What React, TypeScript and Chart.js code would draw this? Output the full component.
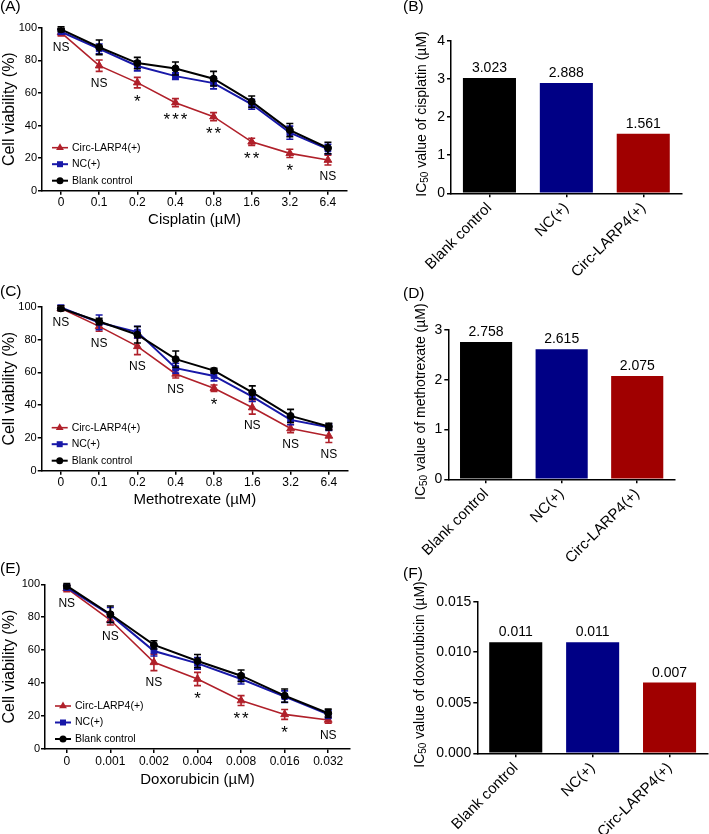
import React, { useEffect, useRef } from 'react';
import { Chart, registerables } from 'chart.js';

Chart.register(...registerables);

const FONT = "'Liberation Sans', Arial, Helvetica, sans-serif";
Chart.defaults.font.family = FONT;
Chart.defaults.color = '#000';

// ---------------- data ----------------
const SERIES_NAMES = ['Circ-LARP4(+)', 'NC(+)', 'Blank control'];
const BAR_GROUPS = ['Blank control', 'NC(+)', 'Circ-LARP4(+)'];

const CIS_DOSES = ['0', '0.1', '0.2', '0.4', '0.8', '1.6', '3.2', '6.4'];
const CIS_CIRC = [97, 76.7, 66.3, 54, 45.4, 30, 22.9, 18.8];
const CIS_CIRC_ERR = [2, 3.5, 3.2, 2.5, 2.5, 2.2, 2.5, 3];
const CIS_NC = [97.5, 87, 76.5, 70.3, 66, 53, 35.6, 25.5];
const CIS_NC_ERR = [1.5, 3, 3, 2, 3.5, 3, 4, 3];
const CIS_BLANK = [99, 88, 78.3, 75, 68.7, 54.6, 37.2, 26.2];
const CIS_BLANK_ERR = [1.5, 4.5, 3.5, 4, 4.5, 3.5, 4, 3.5];
const CIS_SIG = ['NS', 'NS', '*', '***', '**', '**', '*', 'NS'];
const CIS_IC50 = [3.023, 2.888, 1.561];

const MTX_DOSES = ['0', '0.1', '0.2', '0.4', '0.8', '1.6', '3.2', '6.4'];
const MTX_CIRC = [99, 88, 75.8, 59, 50.3, 38.5, 25.7, 21.2];
const MTX_CIRC_ERR = [1.5, 3, 5, 2.5, 2, 4, 2.5, 4];
const MTX_NC = [99.5, 90.4, 84.5, 62.5, 57.8, 45.2, 31, 26.5];
const MTX_NC_ERR = [1.5, 4.5, 3.5, 3, 3, 3, 3, 2];
const MTX_BLANK = [99, 91, 82.9, 68, 61, 47.7, 33.4, 26.9];
const MTX_BLANK_ERR = [1.5, 2, 5, 5, 1.5, 4, 4, 2];
const MTX_SIG = ['NS', 'NS', 'NS', 'NS', '*', 'NS', 'NS', 'NS'];
const MTX_IC50 = [2.758, 2.615, 2.075];

const DOX_DOSES = ['0', '0.001', '0.002', '0.004', '0.008', '0.016', '0.032'];
const DOX_CIRC = [97.5, 78.3, 52.6, 42.5, 29.4, 21, 17.6];
const DOX_CIRC_ERR = [2, 3, 5, 4, 3, 3, 2];
const DOX_NC = [98, 81.4, 59.5, 52, 42.5, 31.8, 21];
const DOX_NC_ERR = [1.5, 4.5, 3, 3.5, 3, 3.5, 2.5];
const DOX_BLANK = [99, 81.8, 63.2, 53.4, 44.5, 32.4, 21.7];
const DOX_BLANK_ERR = [1.5, 5, 2.5, 4, 3.5, 4, 2.5];
const DOX_SIG = ['NS', 'NS', 'NS', '*', '**', '*', 'NS'];
const DOX_IC50 = [0.011, 0.011, 0.007];

// ---------------- styles ----------------
const RED = '#b0202a';
const BLUE = '#1818a8';
const BLACK = '#000000';
const BAR_COLORS = ['#000000', '#000085', '#a00000'];

const axisGrid = {
  display: true,
  drawOnChartArea: false,
  drawTicks: true,
  tickLength: 4,
  color: '#000',
  lineWidth: 1.5,
};
const axisBorder = { display: true, color: '#000', width: 1.5 };

function drawMarker(ctx: any, style: string, x: number, y: number, color: string) {
  ctx.save();
  ctx.fillStyle = color;
  ctx.beginPath();
  if (style === 'triangle') {
    const r = 4.5;
    ctx.moveTo(x, y - r);
    ctx.lineTo(x - r * 0.866, y + r * 0.5);
    ctx.lineTo(x + r * 0.866, y + r * 0.5);
    ctx.closePath();
  } else if (style === 'rect') {
    ctx.rect(x - 3, y - 3, 6, 6);
  } else {
    ctx.arc(x, y, 3.5, 0, Math.PI * 2);
  }
  ctx.fill();
  ctx.restore();
}

const errorBarPlugin = {
  id: 'errorBars',
  afterDatasetDraw(chart: any, args: any) {
    const ds = chart.data.datasets[args.index];
    if (!ds.errors) return;
    const ys = chart.scales.y;
    const ctx = chart.ctx;
    const cap = 3.5;
    ctx.save();
    ctx.strokeStyle = ds.borderColor;
    ctx.lineWidth = 1.6;
    args.meta.data.forEach((pt: any, i: number) => {
      const v = ds.data[i];
      const e = ds.errors[i];
      const yt = ys.getPixelForValue(v + e);
      const yb = ys.getPixelForValue(v - e);
      ctx.beginPath();
      ctx.moveTo(pt.x, yt);
      ctx.lineTo(pt.x, yb);
      ctx.moveTo(pt.x - cap, yt);
      ctx.lineTo(pt.x + cap, yt);
      ctx.moveTo(pt.x - cap, yb);
      ctx.lineTo(pt.x + cap, yb);
      ctx.stroke();
    });
    ctx.restore();
  },
};

function sigPlugin(sig: string[]) {
  return {
    id: 'sig',
    afterDatasetsDraw(chart: any) {
      const ctx = chart.ctx;
      const xs = chart.scales.x;
      const ys = chart.scales.y;
      ctx.save();
      ctx.fillStyle = '#000';
      ctx.textAlign = 'center';
      ctx.textBaseline = 'top';
      sig.forEach((s, i) => {
        let low = Infinity;
        chart.data.datasets.forEach((ds: any) => {
          low = Math.min(low, ds.data[i] - ds.errors[i]);
        });
        const x = xs.getPixelForValue(i);
        const y = ys.getPixelForValue(low);
        if (s === 'NS') {
          ctx.font = `12px ${FONT}`;
          ctx.fillText(s, x, y + 6);
        } else {
          ctx.font = `17px ${FONT}`;
          (ctx as any).letterSpacing = '2px';
          ctx.fillText(s, x + 1, y + 5.5);
          (ctx as any).letterSpacing = '0px';
        }
      });
      ctx.restore();
    },
  };
}

const insideLegendPlugin = {
  id: 'insideLegend',
  afterDraw(chart: any) {
    const ctx = chart.ctx;
    const a = chart.chartArea;
    const offs = [-43, -26.5, -10];
    ctx.save();
    chart.data.datasets.forEach((ds: any, i: number) => {
      const y = a.bottom + offs[i];
      const x0 = a.left + 10;
      const x1 = a.left + 26;
      ctx.strokeStyle = ds.borderColor;
      ctx.lineWidth = ds.borderWidth;
      ctx.beginPath();
      ctx.moveTo(x0, y);
      ctx.lineTo(x1, y);
      ctx.stroke();
      drawMarker(ctx, ds.pointStyle, (x0 + x1) / 2, y, ds.borderColor);
      ctx.fillStyle = '#000';
      ctx.font = `10.5px ${FONT}`;
      ctx.textAlign = 'left';
      ctx.textBaseline = 'middle';
      ctx.fillText(ds.label, a.left + 30, y);
    });
    ctx.restore();
  },
};

function panelLabel(text: string, x: number, y: number) {
  return {
    id: 'panelLabel',
    afterDraw(chart: any) {
      const ctx = chart.ctx;
      ctx.save();
      ctx.fillStyle = '#000';
      ctx.font = `15.5px ${FONT}`;
      ctx.textAlign = 'left';
      ctx.textBaseline = 'top';
      ctx.fillText(text, x, y);
      ctx.restore();
    },
  };
}

function valueLabelPlugin(decimals: number) {
  return {
    id: 'valueLabels',
    afterDatasetsDraw(chart: any) {
      const ctx = chart.ctx;
      const ds = chart.data.datasets[0];
      const meta = chart.getDatasetMeta(0);
      ctx.save();
      ctx.fillStyle = '#000';
      ctx.font = `14px ${FONT}`;
      ctx.textAlign = 'center';
      ctx.textBaseline = 'alphabetic';
      meta.data.forEach((bar: any, i: number) => {
        ctx.fillText(Number(ds.data[i]).toFixed(decimals), bar.x, bar.y - 6);
      });
      ctx.restore();
    },
  };
}

function icTitlePlugin(drug: string, titleX: number) {
  return {
    id: 'icTitle',
    afterDraw(chart: any) {
      const ctx = chart.ctx;
      const a = chart.chartArea;
      const cy = (a.top + a.bottom) / 2 - 3;
      const big = `14px ${FONT}`;
      const small = `10px ${FONT}`;
      const parts: [string, string, number][] = [
        ['IC', big, 0],
        ['50', small, 3],
        [` value of ${drug} (\u00b5M)`, big, 0],
      ];
      ctx.save();
      ctx.fillStyle = '#000';
      ctx.textBaseline = 'middle';
      ctx.textAlign = 'left';
      let total = 0;
      const widths = parts.map(([t, f]) => {
        ctx.font = f;
        const w = ctx.measureText(t).width;
        total += w;
        return w;
      });
      ctx.translate(titleX, cy);
      ctx.rotate(-Math.PI / 2);
      let x = -total / 2;
      parts.forEach(([t, f, dy], i) => {
        ctx.font = f;
        ctx.fillText(t, x, dy);
        x += widths[i];
      });
      ctx.restore();
    },
  };
}

// ---------------- config builders ----------------
type Area = { left: number; right: number; top: number; bottom: number };

function lineConfig(
  w: number,
  h: number,
  area: Area,
  xTitleY: number,
  doses: string[],
  circ: number[],
  circErr: number[],
  nc: number[],
  ncErr: number[],
  blank: number[],
  blankErr: number[],
  sig: string[],
  xTitle: string,
  label: [string, number, number]
) {
  const padBottom = h - xTitleY - 9;
  const xHeight = h - padBottom - area.bottom;
  return {
    type: 'line',
    data: {
      labels: doses,
      datasets: [
        {
          label: SERIES_NAMES[0],
          data: circ,
          errors: circErr,
          borderColor: RED,
          backgroundColor: RED,
          pointBackgroundColor: RED,
          pointBorderColor: RED,
          pointStyle: 'triangle',
          pointRadius: 4.5,
          pointBorderWidth: 1,
          borderWidth: 1.6,
          tension: 0,
          order: 2,
        },
        {
          label: SERIES_NAMES[1],
          data: nc,
          errors: ncErr,
          borderColor: BLUE,
          backgroundColor: BLUE,
          pointBackgroundColor: BLUE,
          pointBorderColor: BLUE,
          pointStyle: 'rect',
          pointRadius: 4,
          pointBorderWidth: 1,
          borderWidth: 2,
          tension: 0,
          order: 1,
        },
        {
          label: SERIES_NAMES[2],
          data: blank,
          errors: blankErr,
          borderColor: BLACK,
          backgroundColor: BLACK,
          pointBackgroundColor: BLACK,
          pointBorderColor: BLACK,
          pointStyle: 'circle',
          pointRadius: 3.5,
          pointBorderWidth: 1,
          borderWidth: 2,
          tension: 0,
          order: 0,
        },
      ],
    },
    options: {
      responsive: false,
      animation: false,
      events: [],
      layout: { padding: { left: 0, top: area.top, right: w - area.right, bottom: padBottom } },
      plugins: { legend: { display: false }, tooltip: { enabled: false } },
      scales: {
        x: {
          type: 'category',
          offset: true,
          grid: { ...axisGrid, offset: false },
          border: axisBorder,
          ticks: { color: '#000', font: { size: 12 }, padding: 1, maxRotation: 0, autoSkip: false },
          title: { display: true, text: xTitle, color: '#000', font: { size: 15 }, padding: 0 },
          afterFit: (s: any) => {
            s.height = xHeight;
          },
        },
        y: {
          min: 0,
          max: 100,
          grid: axisGrid,
          border: axisBorder,
          ticks: { stepSize: 20, color: '#000', font: { size: 11 }, padding: 1 },
          title: { display: true, text: 'Cell viability (%)', color: '#000', font: { size: 16 }, padding: 0 },
          afterFit: (s: any) => {
            s.width = area.left;
          },
        },
      },
    },
    plugins: [errorBarPlugin, sigPlugin(sig), insideLegendPlugin, panelLabel(label[0], label[1], label[2])],
  };
}

function barConfig(
  w: number,
  h: number,
  area: Area,
  values: number[],
  yMax: number,
  yStep: number,
  tickDecimals: number,
  drug: string,
  titleX: number,
  label: [string, number, number]
) {
  return {
    type: 'bar',
    data: {
      labels: BAR_GROUPS,
      datasets: [
        {
          data: values,
          backgroundColor: BAR_COLORS,
          borderWidth: 0,
          barPercentage: 0.69,
          categoryPercentage: 1,
        },
      ],
    },
    options: {
      responsive: false,
      animation: false,
      events: [],
      layout: { padding: { left: 0, top: area.top, right: w - area.right, bottom: 0 } },
      plugins: { legend: { display: false }, tooltip: { enabled: false } },
      scales: {
        x: {
          grid: { ...axisGrid, offset: false },
          border: axisBorder,
          ticks: { color: '#000', font: { size: 15 }, padding: 2, minRotation: 45, maxRotation: 45, autoSkip: false },
          afterFit: (s: any) => {
            s.height = h - area.bottom;
          },
        },
        y: {
          min: 0,
          max: yMax,
          grid: axisGrid,
          border: axisBorder,
          ticks: {
            stepSize: yStep,
            color: '#000',
            font: { size: 14 },
            padding: 2,
            callback: (v: any) => Number(v).toFixed(tickDecimals),
          },
          afterFit: (s: any) => {
            s.width = area.left;
          },
        },
      },
    },
    plugins: [valueLabelPlugin(3), icTitlePlugin(drug, titleX), panelLabel(label[0], label[1], label[2])],
  };
}

// ---------------- components ----------------
function ChartPanel(props: { left: number; top: number; width: number; height: number; make: () => any }) {
  const ref = useRef<HTMLCanvasElement>(null);
  useEffect(() => {
    const chart = new Chart(ref.current as HTMLCanvasElement, props.make());
    return () => chart.destroy();
  }, []);
  return (
    <canvas
      ref={ref}
      width={props.width}
      height={props.height}
      style={{ position: 'absolute', left: props.left, top: props.top, width: props.width, height: props.height }}
    />
  );
}

export default function App() {
  return (
    <div style={{ position: 'absolute', left: 0, top: 0, width: 709, height: 834, background: '#fff', overflow: 'hidden' }}>
      <ChartPanel
        left={0}
        top={0}
        width={360}
        height={280}
        make={() =>
          lineConfig(360, 280, { left: 42, right: 347, top: 27.7, bottom: 190.7 }, 220, CIS_DOSES, CIS_CIRC, CIS_CIRC_ERR, CIS_NC, CIS_NC_ERR, CIS_BLANK, CIS_BLANK_ERR, CIS_SIG, 'Cisplatin (\u00b5M)', ['(A)', 0, -1])
        }
      />
      <ChartPanel
        left={360}
        top={0}
        width={349}
        height={285}
        make={() => barConfig(349, 285, { left: 91, right: 321.7, top: 40.7, bottom: 193.3 }, CIS_IC50, 4, 1, 0, 'cisplatin', 62, ['(B)', 43, -1])}
      />
      <ChartPanel
        left={0}
        top={280}
        width={360}
        height={280}
        make={() =>
          lineConfig(360, 280, { left: 41.7, right: 348, top: 26.7, bottom: 190.7 }, 220, MTX_DOSES, MTX_CIRC, MTX_CIRC_ERR, MTX_NC, MTX_NC_ERR, MTX_BLANK, MTX_BLANK_ERR, MTX_SIG, 'Methotrexate (\u00b5M)', ['(C)', 0, 4])
        }
      />
      <ChartPanel
        left={360}
        top={280}
        width={349}
        height={290}
        make={() => barConfig(349, 290, { left: 88.3, right: 315, top: 50, bottom: 199.3 }, MTX_IC50, 3, 1, 0, 'methotrexate', 61, ['(D)', 43, 6])}
      />
      <ChartPanel
        left={0}
        top={555}
        width={360}
        height={279}
        make={() =>
          lineConfig(360, 279, { left: 45, right: 350, top: 29.3, bottom: 194 }, 225, DOX_DOSES, DOX_CIRC, DOX_CIRC_ERR, DOX_NC, DOX_NC_ERR, DOX_BLANK, DOX_BLANK_ERR, DOX_SIG, 'Doxorubicin (\u00b5M)', ['(E)', 0, 6])
        }
      />
      <ChartPanel
        left={360}
        top={555}
        width={349}
        height={279}
        make={() => barConfig(349, 279, { left: 117.3, right: 348, top: 46.7, bottom: 198.3 }, DOX_IC50, 0.015, 0.005, 3, 'doxorubicin', 60, ['(F)', 43, 11])}
      />
    </div>
  );
}
